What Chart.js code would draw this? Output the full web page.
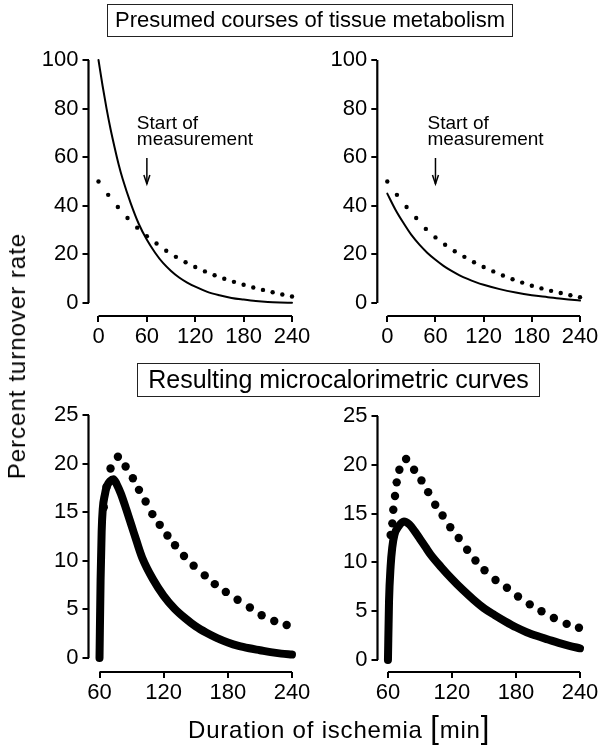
<!DOCTYPE html>
<html>
<head>
<meta charset="utf-8">
<script src="https://cdn.jsdelivr.net/npm/chart.js@4.4.1/dist/chart.umd.min.js"></script>
<style>
  body { margin: 0; background: #fff; }
  #page { position: relative; width: 602px; height: 750px; font-family: "Liberation Sans", Arial, sans-serif; color: #000; overflow: hidden; }
  #page canvas { position: absolute; left: 0; top: 0; }
  .box { position: absolute; border: 1.5px solid #222; text-align: center; white-space: nowrap; box-sizing: border-box; }
  .lbl { position: absolute; white-space: nowrap; }
</style>
</head>
<body>
<div id="page">
  <canvas id="tl" width="602" height="750"></canvas>
  <canvas id="tr" width="602" height="750"></canvas>
  <canvas id="bl" width="602" height="750"></canvas>
  <canvas id="br" width="602" height="750"></canvas>
  <div class="box" style="left:107px;top:4px;width:406px;height:33px;font-size:22px;line-height:30px;">Presumed courses of tissue metabolism</div>
  <div class="box" style="left:137px;top:363px;width:403px;height:34px;font-size:25px;line-height:31px;">Resulting microcalorimetric curves</div>
  <div class="lbl" style="left:17px;top:356px;font-size:24px;letter-spacing:1px;transform:translate(-50%,-50%) rotate(-90deg);">Percent turnover rate</div>
  <div class="lbl" style="left:188px;top:716px;font-size:24px;letter-spacing:0.8px;">Duration of ischemia <span style="font-size:31px;line-height:24px;font-weight:300">[</span>min<span style="font-size:31px;line-height:24px;font-weight:300">]</span></div>
</div>
<script>
// tick labels
const topXTicks = [0, 60, 120, 180, 240];
const topYTicks = [0, 20, 40, 60, 80, 100];
const bottomXTicks = [60, 120, 180, 240];
const bottomYTicks = [0, 5, 10, 15, 20, 25];
const measureStart = 60;

// top left: presumed metabolism
const tlSolidX = [0, 5, 10, 15, 20, 25, 30, 40, 50, 60, 70, 80, 90, 100, 110, 120, 135, 150, 165, 180, 195, 210, 225, 240];
const tlSolidY = [100, 89.5, 80, 71.5, 64, 57, 51, 41, 32.5, 26, 20.8, 16.5, 13.2, 10.5, 8.4, 6.7, 4.6, 3.2, 2.1, 1.4, 0.8, 0.4, 0.2, 0.1];
const tlDotX = [0, 12, 24, 36, 48, 60, 72, 84, 96, 108, 120, 132, 144, 156, 168, 180, 192, 204, 216, 228, 240];
const tlDotY = [50, 44.5, 39.5, 35, 31, 27.5, 24.5, 21.5, 19, 16.8, 14.8, 13, 11.4, 10, 8.7, 7.5, 6.4, 5.4, 4.4, 3.5, 2.7];

// top right
const trSolidX = [0, 10, 20, 30, 40, 50, 60, 70, 80, 90, 100, 110, 120, 140, 160, 180, 200, 220, 240];
const trSolidY = [45, 38.5, 33, 28, 24, 20.6, 17.8, 15.3, 13.2, 11.4, 9.9, 8.6, 7.5, 5.7, 4.3, 3.2, 2.4, 1.6, 1.0];
const trDotX = [0, 12, 24, 36, 48, 60, 72, 84, 96, 108, 120, 132, 144, 156, 168, 180, 192, 204, 216, 228, 240];
const trDotY = [50, 44.5, 39.5, 35, 30.5, 27, 24, 21.3, 19, 16.8, 14.8, 13, 11.3, 9.8, 8.4, 7.1, 6, 5, 4.1, 3.2, 2.4];

// bottom left: resulting microcalorimetric curves
const blSolidX = [60, 61, 62, 63, 65, 67, 70, 73, 76, 80, 85, 90, 95, 100, 110, 120, 130, 140, 150, 160, 170, 180, 190, 200, 210, 220, 230, 240];
const blSolidY = [0, 8, 13, 15.3, 16.8, 17.7, 18.2, 18.4, 17.9, 16.9, 15.3, 13.6, 11.9, 10.3, 8.1, 6.4, 5.1, 4.1, 3.25, 2.6, 2.05, 1.6, 1.25, 1.0, 0.8, 0.6, 0.45, 0.35];
const blDotX = [64, 66.5, 70.3, 77.2, 84.4, 91.2, 96.9, 103.1, 109.4, 116.3, 123.5, 130.6, 139, 148, 158.4, 167.8, 178.1, 189.1, 200.6, 211.6, 223.4, 235];
const blDotY = [15.5, 17.6, 19.5, 20.7, 19.7, 18.5, 17.3, 16.1, 14.8, 13.7, 12.6, 11.6, 10.5, 9.5, 8.5, 7.6, 6.8, 6.0, 5.2, 4.4, 3.8, 3.4];

// bottom right
const brSolidX = [60, 61, 62.5, 64, 66, 70, 75, 80, 85, 90, 95, 100, 110, 120, 130, 140, 150, 160, 170, 180, 190, 200, 210, 220, 230, 240];
const brSolidY = [0, 6, 9.6, 11.5, 12.8, 13.7, 14.2, 13.9, 13.2, 12.4, 11.6, 10.8, 9.5, 8.3, 7.2, 6.2, 5.3, 4.6, 3.95, 3.35, 2.85, 2.45, 2.1, 1.75, 1.45, 1.2];
const brDotX = [62.5, 64.1, 65, 66.6, 68.2, 70.7, 77, 84.5, 91.4, 97.7, 104.3, 111.2, 118.4, 126.3, 134.2, 142, 150.5, 160.8, 171.5, 181.9, 192.9, 203.9, 215.5, 227.5, 239];
const brDotY = [12.8, 14, 15.4, 16.8, 18.2, 19.5, 20.6, 19.5, 18.4, 17.2, 15.9, 14.8, 13.6, 12.5, 11.3, 10.2, 9.2, 8.2, 7.4, 6.5, 5.7, 5.0, 4.3, 3.7, 3.3];

const FONT = '"Liberation Sans", Arial, sans-serif';
const INK = '#000';

function pts(xs, ys) {
    return xs.map((x, i) => ({ x: x, y: ys[i] }));
}

function solid(xs, ys, width) {
    return {
        data: pts(xs, ys), borderColor: INK, borderWidth: width, pointRadius: 0,
        borderCapStyle: 'round', borderJoinStyle: 'round',
        cubicInterpolationMode: 'monotone', clip: false
    };
}

function dotted(xs, ys, r) {
    return {
        data: pts(xs, ys), showLine: false, pointRadius: r, pointBorderWidth: 0,
        pointBackgroundColor: INK, borderColor: INK, clip: false
    };
}

// axis lines run from the first to the last tick, like the original
const axisLines = {
    id: 'axisLines',
    afterDraw(chart) {
        const ctx = chart.ctx, xs = chart.scales.x, ys = chart.scales.y;
        const xt = xs.ticks, yt = ys.ticks;
        ctx.save();
        ctx.strokeStyle = INK;
        ctx.lineWidth = 2.2;
        ctx.beginPath();
        ctx.moveTo(xs.getPixelForValue(xt[0].value), xs.top);
        ctx.lineTo(xs.getPixelForValue(xt[xt.length - 1].value), xs.top);
        ctx.moveTo(ys.right, ys.getPixelForValue(yt[0].value));
        ctx.lineTo(ys.right, ys.getPixelForValue(yt[yt.length - 1].value));
        ctx.stroke();
        ctx.restore();
    }
};

function startNote(dx) {
    return {
        id: 'startNote',
        afterDraw(chart) {
            const ctx = chart.ctx;
            const x0 = chart.scales.x.getPixelForValue(measureStart);
            ctx.save();
            ctx.fillStyle = INK;
            ctx.strokeStyle = INK;
            ctx.font = '19px ' + FONT;
            ctx.fillText('Start of', x0 + dx, 129);
            ctx.fillText('measurement', x0 + dx, 145);
            ctx.lineWidth = 1.5;
            ctx.beginPath();
            ctx.moveTo(x0, 158);
            ctx.lineTo(x0, 184);
            ctx.stroke();
            ctx.beginPath();
            ctx.moveTo(x0 - 3, 175);
            ctx.lineTo(x0, 184);
            ctx.lineTo(x0 + 3, 175);
            ctx.stroke();
            ctx.restore();
        }
    };
}

function makePanel(id, area, xRange, yRange, xTicks, yTicks, datasets, extra) {
    const tickFont = { family: FONT, size: 22 };
    return new Chart(document.getElementById(id), {
        type: 'line',
        data: { datasets: datasets },
        options: {
            responsive: false,
            animation: false,
            events: [],
            layout: { padding: { left: area.left - 80, right: 602 - area.right, top: area.top, bottom: 750 - area.bottom - 50 } },
            plugins: { legend: { display: false }, tooltip: { enabled: false } },
            scales: {
                x: {
                    type: 'linear', min: xRange[0], max: xRange[1],
                    afterBuildTicks: s => { s.ticks = xTicks.map(v => ({ value: v })); },
                    afterFit: s => { s.height = 50; s.paddingLeft = 0; s.paddingRight = 0; },
                    border: { display: false },
                    grid: { drawOnChartArea: false, tickLength: 6, lineWidth: 2, color: INK },
                    ticks: { font: tickFont, color: INK, padding: 2, maxRotation: 0, autoSkip: false }
                },
                y: {
                    type: 'linear', min: yRange[0], max: yRange[1],
                    afterBuildTicks: s => { s.ticks = yTicks.map(v => ({ value: v })); },
                    afterFit: s => { s.width = 80; s.paddingTop = 0; s.paddingBottom = 0; },
                    border: { display: false },
                    grid: { drawOnChartArea: false, tickLength: 6, lineWidth: 2, color: INK },
                    ticks: { font: tickFont, color: INK, padding: 4, autoSkip: false }
                }
            }
        },
        plugins: [axisLines].concat(extra || [])
    });
}

makePanel('tl', { left: 88.5, right: 292, top: 60, bottom: 316 }, [-12.4, 240], [-5.35, 100],
    topXTicks, topYTicks,
    [solid(tlSolidX, tlSolidY, 2), dotted(tlDotX, tlDotY, 2.2)], [startNote(-10)]);

makePanel('tr', { left: 377.3, right: 580, top: 60, bottom: 316 }, [-12.45, 240], [-5.35, 100],
    topXTicks, topYTicks,
    [solid(trSolidX, trSolidY, 2), dotted(trDotX, trDotY, 2.2)], [startNote(-8)]);

makePanel('bl', { left: 88.5, right: 292, top: 415, bottom: 672 }, [49.7, 240], [-1.44, 25],
    bottomXTicks, bottomYTicks,
    [dotted(blDotX, blDotY, 4.2), solid(blSolidX, blSolidY, 8)]);

makePanel('br', { left: 377.5, right: 580, top: 416, bottom: 672 }, [50.2, 240], [-1.23, 25],
    bottomXTicks, bottomYTicks,
    [dotted(brDotX, brDotY, 4.2), solid(brSolidX, brSolidY, 8)]);
</script>
</body>
</html>
